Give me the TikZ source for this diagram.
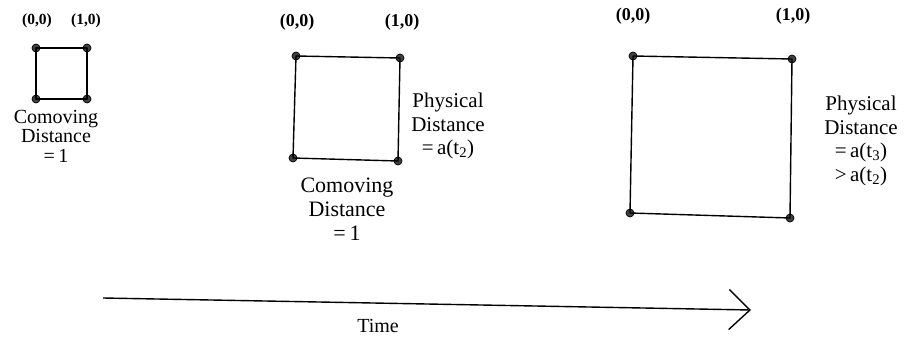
\documentclass[tikz,border=0pt]{standalone}
\usepackage{fontspec}
\setmainfont{Liberation Serif}
\usetikzlibrary{arrows.meta}
\begin{document}
\begin{tikzpicture}[x=1pt,y=-1pt,
  sq/.style={line width=1.4pt, line join=round},
  dot/.style={circle, fill=black!75, draw=black, line width=0.7pt, inner sep=0pt, minimum size=8pt},
  crdA/.style={font=\fontsize{15.5}{15.5}\selectfont\bfseries, inner sep=0pt},
  crdB/.style={font=\fontsize{18}{18}\selectfont\bfseries, inner sep=0pt},
  lblS/.style={align=center, inner sep=0pt, font=\fontsize{20}{19.5}\selectfont},
  lblA/.style={align=center, inner sep=0pt, font=\fontsize{22}{24}\selectfont},
  lblB/.style={align=center, inner sep=0pt, font=\fontsize{21}{23.5}\selectfont},
  timearrow/.style={line width=1.4pt, -{Straight Barb[length=21pt,width=40pt,line width=1.4pt]}}
]
\useasboundingbox (0,0) rectangle (908,345);
% square 1
\node[dot] (a1) at (36,48) {};
\node[dot] (b1) at (87,48) {};
\node[dot] (c1) at (87,99) {};
\node[dot] (d1) at (36,99) {};
\draw[sq] (a1.center) -- (b1.center) -- (c1.center) -- (d1.center) -- cycle;
\node[crdA] (p1) at (37,21) {(0,0)};
\node[crdA] (q1) at (86,21) {(1,0)};
\node[lblS, anchor=north] (cm1) at (56,110) {Comoving\\Distance\\=\,1};
% square 2
\node[dot] (a2) at (296,56) {};
\node[dot] (b2) at (400,58) {};
\node[dot] (c2) at (398,161) {};
\node[dot] (d2) at (293,158) {};
\draw[sq] (a2.center) -- (b2.center) -- (c2.center) -- (d2.center) -- cycle;
\node[crdB] (p2) at (297,22) {(0,0)};
\node[crdB] (q2) at (402,22) {(1,0)};
\node[lblA, anchor=north] (cm2) at (347,178) {Comoving\\Distance\\=\,1};
\node[lblB, anchor=north] (ph2) at (448,93) {Physical\\Distance\\=\,a(t\textsubscript{2})};
% square 3
\node[dot] (a3) at (633,56) {};
\node[dot] (b3) at (792,59) {};
\node[dot] (c3) at (790,218) {};
\node[dot] (d3) at (630,213) {};
\draw[sq] (a3.center) -- (b3.center) -- (c3.center) -- (d3.center) -- cycle;
\node[crdB] (p3) at (633,16) {(0,0)};
\node[crdB] (q3) at (793,16) {(1,0)};
\node[lblB, anchor=north] (ph3) at (861,96) {Physical\\Distance\\=\,a(t\textsubscript{3})\\>\,a(t\textsubscript{2})};
% time arrow
\coordinate (ts) at (103,298);
\coordinate (te) at (751,310);
\draw[timearrow] (ts) -- (te);
\node[font=\fontsize{20}{20}\selectfont, inner sep=0pt] (tm) at (378,326) {Time};
\end{tikzpicture}
\end{document}
